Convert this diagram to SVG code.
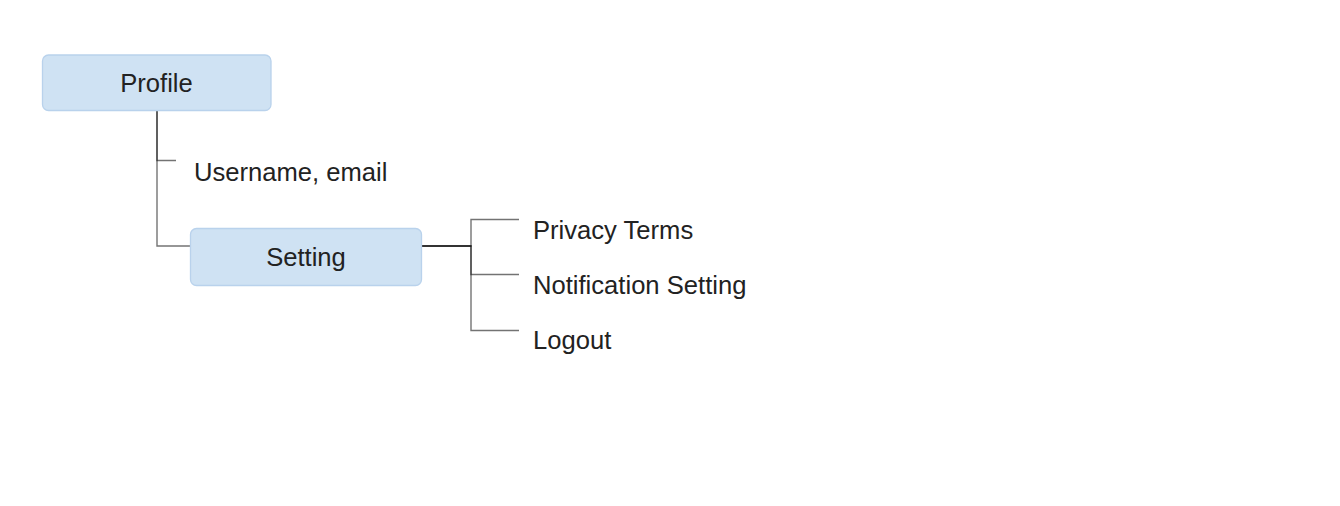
<svg xmlns="http://www.w3.org/2000/svg" width="1340" height="506" viewBox="0 0 1340 506">
<style>
.box{fill:#cfe2f3;stroke:#b9d2ec;stroke-width:1.3}
.t{font-family:"Liberation Sans",Arial,sans-serif;font-size:25.6px;fill:#222}
.c{fill:none;stroke:#000;stroke-opacity:0.55;stroke-width:1.4}
</style>
<rect width="1340" height="506" fill="#fff"/>
<g id="connectors">
<path class="c" d="M157 110.5 V160.5 H176"/>
<path class="c" d="M157 110.5 V246 H190"/>
<path class="c" d="M421.5 246 H471 V219.5 H519"/>
<path class="c" d="M421.5 246 H471 V274.5 H519"/>
<path class="c" d="M421.5 246 H471 V330.5 H519"/>
</g>
<g id="profile">
<rect class="box" x="42.5" y="55" width="228.5" height="55.5" rx="6"/>
<text class="t" x="156.5" y="92" text-anchor="middle">Profile</text>
</g>
<g id="username">
<text class="t" x="194" y="180.5">Username, email</text>
</g>
<g id="setting">
<rect class="box" x="190.5" y="228.5" width="231" height="57" rx="6"/>
<text class="t" x="306" y="266" text-anchor="middle">Setting</text>
</g>
<g id="privacy">
<text class="t" x="533" y="239">Privacy Terms</text>
</g>
<g id="notification">
<text class="t" x="533" y="294">Notification Setting</text>
</g>
<g id="logout">
<text class="t" x="533" y="348.5">Logout</text>
</g>
</svg>
